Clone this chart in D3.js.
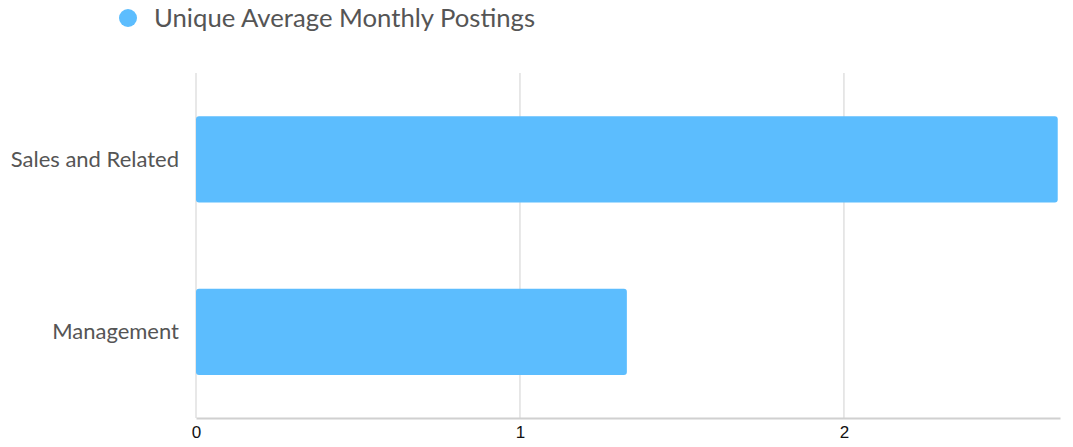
<!DOCTYPE html>
<html>
<head>
<meta charset="utf-8">
<script src="https://cdn.jsdelivr.net/npm/d3@7"></script>
<style>
  body { margin: 0; background: #fff; }
  svg { display: block; }
</style>
</head>
<body>
<script>
var categories = ["Sales and Related", "Management"];
var values = [2.66, 1.33];
var seriesName = "Unique Average Monthly Postings";
var tickValues = [0, 1, 2];
var axisMax = 2.667;

var width = 1073, height = 447;
var margin = { top: 73, right: 13, bottom: 29, left: 196 };

var svg = d3.select(document.body).append("svg")
  .attr("width", width)
  .attr("height", height);

var x = d3.scaleLinear()
  .domain([0, axisMax])
  .range([margin.left, width - margin.right]);

var y = d3.scaleBand()
  .domain(categories)
  .range([margin.top, height - margin.bottom])
  .paddingInner(0.5)
  .paddingOuter(0.25);

// grid lines
svg.append("g")
  .selectAll("line")
  .data(tickValues)
  .join("line")
  .attr("x1", function(d) { return x(d); })
  .attr("x2", function(d) { return x(d); })
  .attr("y1", margin.top)
  .attr("y2", height - margin.bottom)
  .attr("stroke", "#e0e0e0")
  .attr("stroke-width", 1.5);

// bars
svg.append("g")
  .selectAll("rect")
  .data(categories)
  .join("rect")
  .attr("x", x(0))
  .attr("y", function(d) { return y(d); })
  .attr("width", function(d, i) { return x(values[i]) - x(0); })
  .attr("height", y.bandwidth())
  .attr("rx", 3)
  .attr("fill", "#5cbdfe");

// x axis
var xAxis = svg.append("g")
  .attr("transform", "translate(0," + (height - margin.bottom) + ")")
  .call(d3.axisBottom(x).tickValues(tickValues).tickSize(0).tickPadding(8).tickFormat(d3.format("d")));
xAxis.select(".domain").attr("stroke", "#d0d0d0").attr("stroke-width", 2);
xAxis.selectAll("text")
  .attr("font-family", "'Liberation Sans', Arial, sans-serif")
  .attr("font-size", 17)
  .attr("fill", "#111");

// y labels
svg.append("g")
  .selectAll("text")
  .data(categories)
  .join("text")
  .attr("x", margin.left - 17)
  .attr("y", function(d) { return y(d) + y.bandwidth() / 2; })
  .attr("dy", "0.35em")
  .attr("text-anchor", "end")
  .attr("font-family", "Lato, sans-serif")
  .attr("font-size", 22)
  .attr("fill", "#555")
  .text(function(d) { return d; });

// legend
var legend = svg.append("g");
legend.append("circle")
  .attr("cx", 128)
  .attr("cy", 18)
  .attr("r", 9)
  .attr("fill", "#5cbdfe");
legend.append("text")
  .attr("x", 154)
  .attr("y", 18)
  .attr("dy", "0.35em")
  .attr("font-family", "Lato, sans-serif")
  .attr("font-size", 25.7)
  .attr("fill", "#555")
  .text(seriesName);
</script>
</body>
</html>
